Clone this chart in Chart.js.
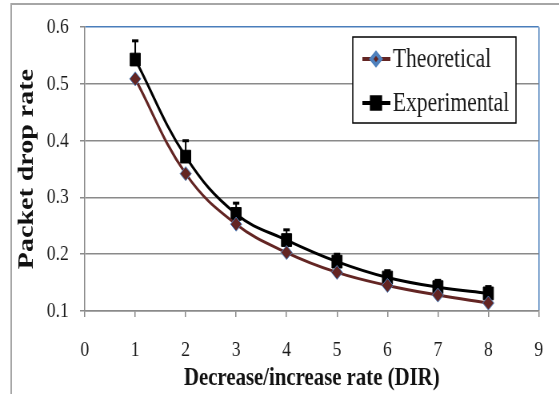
<!DOCTYPE html>
<html>
<head>
<meta charset="utf-8">
<title>Packet drop rate</title>
<script src="https://cdn.jsdelivr.net/npm/chart.js@4.4.1/dist/chart.umd.min.js"></script>
<style>
  html, body { margin: 0; padding: 0; background: #fff; overflow: hidden; }
  /* the figure is drawn wide, then narrowed horizontally */
  #wrap { width: 699px; height: 394px; transform: scaleX(0.8); transform-origin: 0 0; }
</style>
</head>
<body>
<div id="wrap"><canvas id="myChart" width="699" height="394"></canvas></div>
<script>
var seriesNames = ["Theoretical", "Experimental"];
var dirValues = [1, 2, 3, 4, 5, 6, 7, 8];
var theoretical = [0.509, 0.342, 0.253, 0.203, 0.168, 0.145, 0.128, 0.114];
var experimental = [0.543, 0.372, 0.271, 0.225, 0.187, 0.159, 0.142, 0.131];
var expError = [0.033, 0.028, 0.019, 0.018, 0.013, 0.012, 0.012, 0.012];
var xTicks = [0, 1, 2, 3, 4, 5, 6, 7, 8, 9];
var yTicks = [0.1, 0.2, 0.3, 0.4, 0.5, 0.6];

var FONT = "'Liberation Serif', 'Times New Roman', serif";
var GRID = "#8a8a8a";
var EDGE = "#4a7ebb";

function points(ys){
    return dirValues.map(function(x, i){ return {x: x, y: ys[i]}; });
}

// grey frame around the whole figure
var framePlugin = {
    id: "frame",
    beforeDraw: function(chart){
        var ctx = chart.ctx;
        ctx.save();
        ctx.fillStyle = "#fff";
        ctx.fillRect(0, 0, chart.width, chart.height);
        ctx.strokeStyle = "#a6a6a6";
        ctx.lineWidth = 2;
        ctx.beginPath();
        ctx.moveTo(14, chart.height + 5);
        ctx.lineTo(14, 4);
        ctx.lineTo(chart.width + 5, 4);
        ctx.stroke();
        ctx.restore();
    }
};

// upper error bars on the experimental series
var errorBarPlugin = {
    id: "errorBars",
    beforeDatasetsDraw: function(chart){
        var ctx = chart.ctx, xs = chart.scales.x, ys = chart.scales.y;
        ctx.save();
        ctx.strokeStyle = "#000";
        dirValues.forEach(function(x, i){
            var px = xs.getPixelForValue(x);
            var y0 = ys.getPixelForValue(experimental[i]);
            var y1 = ys.getPixelForValue(experimental[i] + expError[i]);
            ctx.lineWidth = 2;
            ctx.beginPath();
            ctx.moveTo(px, y0);
            ctx.lineTo(px, y1);
            ctx.stroke();
            ctx.lineWidth = 3;
            ctx.beginPath();
            ctx.moveTo(px - 4, y1);
            ctx.lineTo(px + 4, y1);
            ctx.stroke();
        });
        ctx.restore();
    }
};

// boxed legend inside the plot
var boxLegendPlugin = {
    id: "boxLegend",
    afterDraw: function(chart){
        var ctx = chart.ctx;
        var bx = 441, by = 37, bw = 204, bh = 86;
        ctx.save();
        ctx.fillStyle = "#fff";
        ctx.fillRect(bx, by, bw, bh);
        ctx.strokeStyle = "#000";
        ctx.lineWidth = 1.5;
        ctx.strokeRect(bx, by, bw, bh);
        chart.data.datasets.forEach(function(ds, i){
            var y = 59 + i * 44;
            ctx.strokeStyle = ds.borderColor;
            ctx.lineWidth = 4;
            ctx.beginPath();
            ctx.moveTo(453, y);
            ctx.lineTo(488, y);
            ctx.stroke();
            ctx.fillStyle = ds.pointBackgroundColor;
            ctx.strokeStyle = ds.pointBorderColor;
            Chart.helpers.drawPoint(ctx, {
                pointStyle: ds.pointStyle,
                radius: ds.pointRadius - 1,
                borderWidth: ds.pointBorderWidth,
                rotation: 0
            }, 470, y);
            ctx.fillStyle = "#1a1a1a";
            ctx.font = "27px " + FONT;
            ctx.textBaseline = "middle";
            ctx.textAlign = "left";
            ctx.fillText(ds.label, 491, y + 1);
        });
        ctx.restore();
    }
};

function showChart(){
    new Chart("myChart", {
        type: "line",
        data: {
            datasets: [{
                label: seriesNames[0],
                data: points(theoretical),
                borderColor: "#632523",
                borderWidth: 3,
                tension: 0.4,
                pointStyle: "rectRot",
                pointRadius: 7,
                pointBackgroundColor: "#632523",
                pointBorderColor: "#4f81bd",
                pointBorderWidth: 1
            }, {
                label: seriesNames[1],
                data: points(experimental),
                borderColor: "#000",
                borderWidth: 3,
                tension: 0.4,
                pointStyle: "rect",
                pointRadius: 9,
                pointBackgroundColor: "#000",
                pointBorderColor: "#000",
                pointBorderWidth: 1
            }]
        },
        options: {
            responsive: false,
            animation: false,
            layout: { padding: { left: 14, top: 24, right: 20, bottom: 0 } },
            plugins: {
                legend: { display: false },
                tooltip: { enabled: false }
            },
            scales: {
                x: {
                    type: "linear",
                    min: 0,
                    max: 9,
                    afterFit: function(s){ s.height = 83; },
                    afterBuildTicks: function(s){ s.ticks = xTicks.map(function(v){ return {value: v}; }); },
                    ticks: { padding: 20, color: "#1a1a1a", font: { family: FONT, size: 22 } },
                    grid: {
                        color: function(c){ return c.tick && c.tick.value === 9 ? EDGE : "rgba(0,0,0,0)"; },
                        tickColor: GRID,
                        tickLength: 6,
                        lineWidth: 1.5
                    },
                    border: { color: GRID, width: 1.5 },
                    title: {
                        display: true,
                        text: "Decrease/increase rate (DIR)",
                        color: "#111",
                        padding: 0,
                        font: { family: FONT, size: 26, weight: "bold" }
                    }
                },
                y: {
                    min: 0.1,
                    max: 0.6,
                    afterFit: function(s){ s.width = 92; },
                    afterBuildTicks: function(s){ s.ticks = yTicks.map(function(v){ return {value: v}; }); },
                    ticks: {
                        padding: 14,
                        color: "#1a1a1a",
                        font: { family: FONT, size: 22 },
                        callback: function(v){ return v.toFixed(1); }
                    },
                    grid: {
                        color: function(c){ return c.tick && Math.abs(c.tick.value - 0.6) < 1e-6 ? EDGE : GRID; },
                        tickColor: GRID,
                        tickLength: 6,
                        lineWidth: 1.5
                    },
                    border: { color: GRID, width: 1.5 },
                    title: {
                        display: true,
                        text: "Packet drop rate",
                        color: "#111",
                        padding: { top: 3, bottom: 0 },
                        font: { family: FONT, size: 28, weight: "bold" }
                    }
                }
            }
        },
        plugins: [framePlugin, errorBarPlugin, boxLegendPlugin]
    });
}

window.addEventListener("load", showChart);
</script>
</body>
</html>
